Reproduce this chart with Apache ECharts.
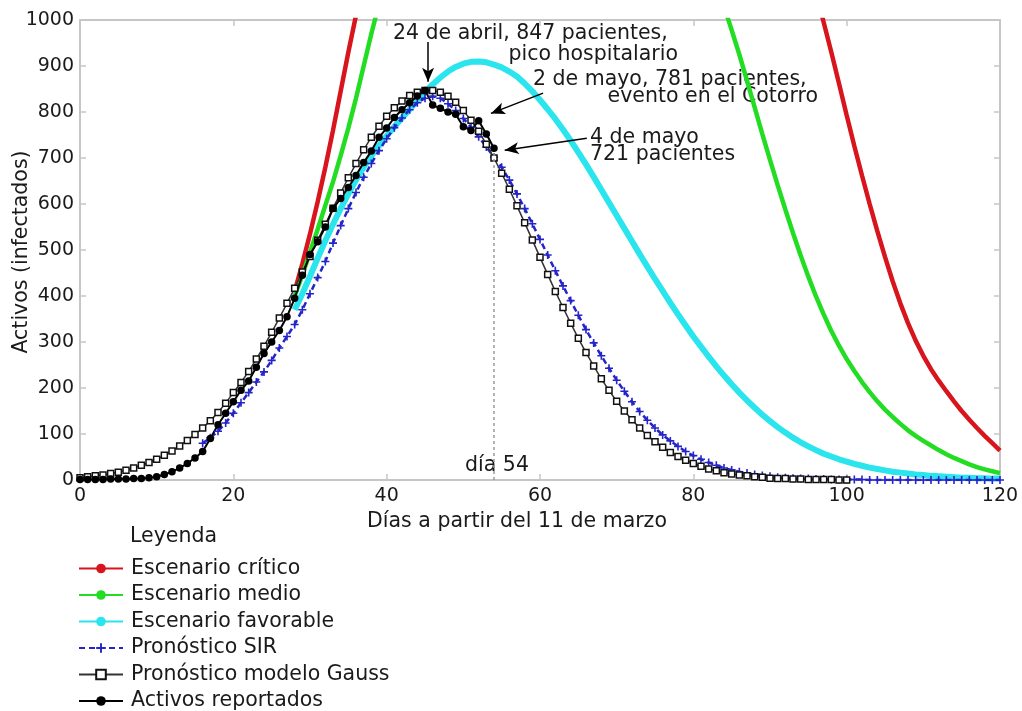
<!DOCTYPE html>
<html>
<head>
<meta charset="utf-8">
<script src="https://cdn.jsdelivr.net/npm/echarts@6/dist/echarts.min.js"></script>
<style>
html,body{margin:0;padding:0;background:#fff;}
#chart{width:1022px;height:711px;}
</style>
</head>
<body>
<div id="chart"></div>
<script>
// ---- data (day index = days since 11 March) ----
const xTicks = [0, 20, 40, 60, 80, 100, 120];
const yTicks = [0, 100, 200, 300, 400, 500, 600, 700, 800, 900, 1000];

const seriesNames = ['Escenario crítico', 'Escenario medio', 'Escenario favorable',
  'Pronóstico SIR', 'Pronóstico modelo Gauss', 'Activos reportados'];

const criticoStart = 28;
const criticoValues = [410, 470,
  535, 605, 680, 760, 845, 930, 1010, 1085, 1157, 1226,
  1292, 1355, 1415, 1472, 1526, 1577, 1625, 1670, 1712, 1751,
  1787, 1820, 1851, 1880, 1907, 1932, 1955, 1976, 1995, 2012,
  2027, 2040, 2051, 2060, 2067, 2072, 2075, 2076, 2075, 2069,
  2062, 2054, 2045, 2034, 2022, 2008, 1992, 1974, 1954, 1932,
  1907, 1879, 1848, 1814, 1776, 1734, 1688, 1638, 1585, 1528,
  1468, 1404, 1338, 1270, 1200, 1130, 1062, 995, 930, 862,
  793, 726, 662, 600, 541, 485, 432, 384, 341, 303,
  270, 241, 216, 193, 171, 150, 131, 113, 96, 80, 64];

const medioStart = 28;
const medioValues = [400, 445,
  495, 545, 597, 648, 705, 765, 830, 900, 970, 1035,
  1095, 1150, 1200, 1246, 1288, 1326, 1360, 1390, 1417, 1441,
  1462, 1480, 1495, 1507, 1516, 1522, 1527, 1531, 1534, 1536,
  1537, 1537, 1536, 1534, 1531, 1527, 1522, 1516, 1509, 1500,
  1489, 1476, 1461, 1443, 1422, 1398, 1371, 1341, 1308, 1268,
  1225, 1180, 1132, 1082, 1030, 978, 925, 868, 810, 752,
  696, 641, 588, 537, 488, 442, 399, 360, 324, 292,
  263, 237, 213, 191, 171, 153, 137, 122, 108, 96,
  85, 75, 65, 56, 48, 41, 34, 28, 23, 19, 15];

const favorableStart = 28;
const favorableValues = [370, 405,
  443, 482, 520, 556, 590, 622, 652, 680, 705, 727,
  748, 768, 787, 806, 825, 843, 860, 875, 888, 898,
  905, 909, 910, 908, 903, 897, 888, 877, 862, 845,
  826, 806, 785, 762, 738, 712, 686, 659, 631, 603,
  575, 547, 519, 491, 464, 437, 411, 385, 360, 336,
  312, 290, 268, 247, 227, 208, 190, 173, 157, 142,
  128, 115, 103, 92, 82, 73, 65, 57, 51, 45,
  40, 35, 31, 27, 24, 21, 18, 16, 14, 12,
  11, 9, 8, 7, 6, 5, 5, 4, 4, 3, 3];

const sirStart = 16;
const sirValues = [80, 92, 106, 124,
  145, 168, 190, 213, 235, 260, 287, 312, 338, 370,
  405, 440, 475, 515, 553, 590, 625, 658, 688, 716,
  742, 766, 787, 805, 820, 830, 834, 830, 818, 803,
  786, 767, 746, 724, 702, 680, 652, 622, 590, 557,
  523, 489, 455, 422, 390, 358, 327, 298, 270, 243,
  217, 193, 170, 149, 130, 113, 98, 85, 73, 62,
  53, 45, 38, 32, 26, 22, 18, 15, 12, 10,
  8, 6, 5, 4, 3, 3, 2, 2, 1, 1,
  1, 1, 1, 0, 0, 0, 0, 0, 0, 0,
  0, 0, 0, 0, 0, 0, 0, 0, 0, 0, 0];

const gaussStart = 0;
const gaussValues = [5, 7, 9, 11, 14, 17, 21, 26, 32, 38,
  45, 54, 63, 74, 86, 99, 113, 129, 147, 167,
  190, 212, 236, 263, 291, 321, 352, 384, 417, 452,
  486, 521, 556, 591, 624, 657, 688, 718, 745, 769,
  791, 809, 824, 836, 843, 847, 847, 843, 834, 821,
  803, 782, 758, 730, 700, 667, 632, 596, 559, 522,
  484, 447, 410, 375, 341, 308, 277, 248, 220, 195,
  171, 150, 131, 113, 97, 83, 71, 60, 51, 43,
  36, 30, 24, 20, 16, 13, 11, 9, 7, 6,
  4, 3, 3, 2, 2, 1, 1, 1, 1, 0, 0];

const reportedStart = 0;
const reportedValues = [1, 1, 1, 1, 2, 2, 2, 3, 3, 5,
  7, 12, 18, 26, 36, 48, 62, 90, 120, 145,
  170, 195, 215, 245, 275, 300, 325, 355, 395, 445,
  490, 518, 550, 590, 612, 636, 662, 690, 715, 745,
  765, 788, 805, 820, 835, 847, 815, 808, 800, 795,
  768, 760, 781, 752, 721];

// annotations: text lines and arrows (arrow tail -> head, in data units)
const annotationLines = [
  '24 de abril, 847 pacientes,', 'pico hospitalario',
  '2 de mayo, 781 pacientes,', 'evento en el Cotorro',
  '4 de mayo', '721 pacientes', 'día 54'];
const arrows = [
  [[45.4, 952], [45.4, 866]],
  [[60.4, 841], [53.6, 797]],
  [[66.1, 743], [55.4, 717]]
];
const markerDay = 54;
const markerValue = 712;

const FONT = 'DejaVu Sans';
const TXT = '#1a1a1a';
const AXIS = '#c6c6c6';
const TEXT_SIZE = 20.5;

function pairs(start, vals) { return vals.map((v, i) => [start + i, v]); }

const chart = echarts.init(document.getElementById('chart'), null, {renderer: 'canvas'});

const axisCommon = {
  type: 'value',
  axisLine: {show: true, onZero: false, lineStyle: {color: AXIS, width: 2}},
  axisTick: {show: true, inside: true, length: 6, lineStyle: {color: AXIS, width: 1.5}},
  splitLine: {show: false}
};

const plusPath = 'path://M4,0H6V4H10V6H6V10H4V6H0V4H4Z';

chart.setOption({
  animation: false,
  backgroundColor: '#fff',
  grid: {left: 80, right: 22, top: 20, bottom: 231},
  xAxis: [
    Object.assign({}, axisCommon, {min: xTicks[0], max: xTicks[xTicks.length - 1], interval: 20,
      position: 'bottom',
      axisLabel: {fontSize: 19, color: TXT, fontFamily: FONT, margin: 7, formatter: v => String(v)}}),
    Object.assign({}, axisCommon, {min: xTicks[0], max: xTicks[xTicks.length - 1], interval: 20,
      position: 'top', axisLabel: {show: false}})
  ],
  yAxis: [
    Object.assign({}, axisCommon, {min: yTicks[0], max: yTicks[yTicks.length - 1], interval: 100,
      position: 'left',
      axisLabel: {fontSize: 19, color: TXT, fontFamily: FONT, margin: 6, formatter: v => String(v)}}),
    Object.assign({}, axisCommon, {min: yTicks[0], max: yTicks[yTicks.length - 1], interval: 100,
      position: 'right', axisLabel: {show: false}})
  ],
  legend: {
    orient: 'vertical', left: 78, top: 558, height: 200, padding: 0,
    itemWidth: 44, itemHeight: 12, itemGap: 5.5,
    textStyle: {fontSize: TEXT_SIZE, fontFamily: FONT, color: TXT, padding: [0, 0, 0, 3]},
    data: seriesNames
  },
  series: [
    {name: seriesNames[0], type: 'line', data: pairs(criticoStart, criticoValues),
      symbol: 'none', lineStyle: {color: '#d8141c', width: 4.5}, itemStyle: {color: '#d8141c'}},
    {name: seriesNames[1], type: 'line', data: pairs(medioStart, medioValues),
      symbol: 'none', lineStyle: {color: '#22dd22', width: 4.5}, itemStyle: {color: '#22dd22'}},
    {name: seriesNames[2], type: 'line', data: pairs(favorableStart, favorableValues),
      symbol: 'none', lineStyle: {color: '#2ae4ee', width: 6}, itemStyle: {color: '#2ae4ee'}},
    {name: seriesNames[3], type: 'line', data: pairs(sirStart, sirValues),
      symbol: plusPath, symbolSize: 8, showAllSymbol: true,
      lineStyle: {color: '#2424c8', width: 2.5, type: [6, 4]}, itemStyle: {color: '#2424c8'}},
    {name: seriesNames[4], type: 'line', data: pairs(gaussStart, gaussValues),
      symbol: 'rect', symbolSize: 6, showAllSymbol: true,
      lineStyle: {color: '#333', width: 1.5},
      itemStyle: {color: '#fff', borderColor: '#111', borderWidth: 1.5}},
    {name: seriesNames[5], type: 'line', data: pairs(reportedStart, reportedValues),
      symbol: 'circle', symbolSize: 7.5, showAllSymbol: true,
      lineStyle: {color: '#000', width: 2}, itemStyle: {color: '#000'},
      markLine: {
        silent: true, animation: false,
        label: {show: false},
        data: [
          [{coord: [markerDay, 0], symbol: 'none', lineStyle: {color: '#9a9a9a', width: 1.5, type: [3, 3]}},
           {coord: [markerDay, markerValue], symbol: 'none'}]
        ].concat(arrows.map(a => [
          {coord: a[0], symbol: 'none', lineStyle: {color: '#000', width: 1.5, type: 'solid'}},
          {coord: a[1], symbol: 'arrow', symbolSize: [9, 14]}
        ]))
      }}
  ]
});

const tStyle = (text, align) => ({text: text, fill: TXT, font: TEXT_SIZE + 'px "' + FONT + '"', align: align, verticalAlign: 'middle'});

chart.setOption({
  graphic: [
    {type: 'text', x: 22, y: 252, rotation: Math.PI / 2, style: tStyle('Activos (infectados)', 'center')},
    {type: 'text', x: 517, y: 522, style: tStyle('Días a partir del 11 de marzo', 'center')},
    {type: 'text', x: 130, y: 537, style: tStyle('Leyenda', 'left')},
    {type: 'text', x: 393, y: 34, style: tStyle(annotationLines[0], 'left')},
    {type: 'text', x: 678, y: 55, style: tStyle(annotationLines[1], 'right')},
    {type: 'text', x: 533, y: 80, style: tStyle(annotationLines[2], 'left')},
    {type: 'text', x: 818, y: 97, style: tStyle(annotationLines[3], 'right')},
    {type: 'text', x: 590, y: 138, style: tStyle(annotationLines[4], 'left')},
    {type: 'text', x: 590, y: 155, style: tStyle(annotationLines[5], 'left')},
    {type: 'text', x: 497, y: 466, style: tStyle(annotationLines[6], 'center')}
  ]
});
</script>
</body>
</html>
